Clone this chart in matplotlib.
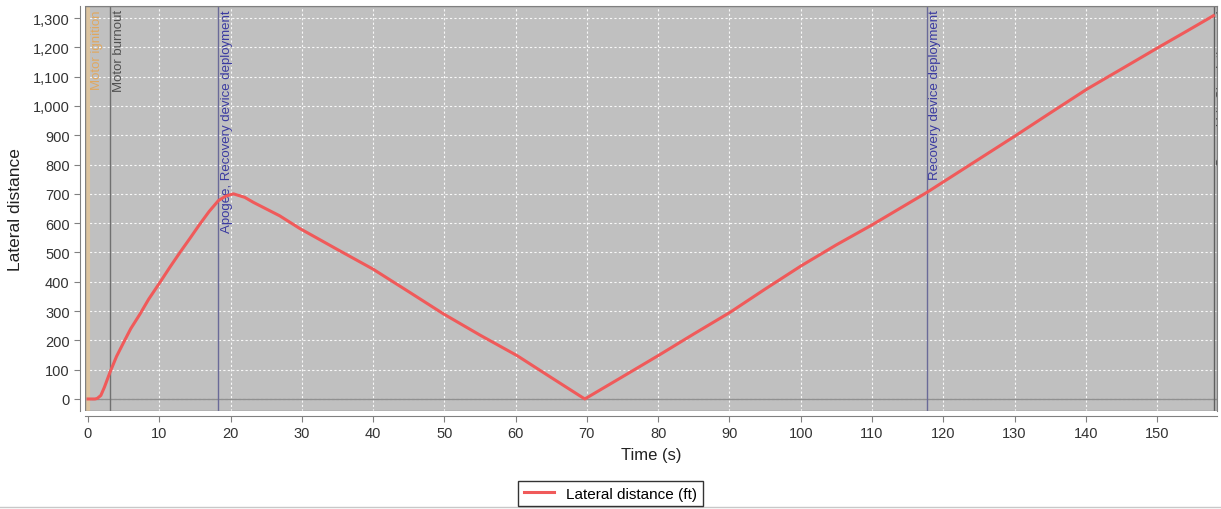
#!/usr/bin/env python3
"""
Lateral distance vs time, flight simulation style plot
"""

import matplotlib
matplotlib.use('Agg')
import matplotlib.pyplot as plt
from matplotlib.ticker import FuncFormatter, MultipleLocator
from matplotlib.lines import Line2D

plt.rcParams['font.family'] = ['Liberation Sans', 'DejaVu Sans']

# Flight data
time_s = [0, 1.0, 1.3, 1.8, 2.3, 3.1, 4.0, 5.0, 6.0, 7.3, 8.5, 10.1, 11.5, 12.9,
          14.3, 15.7, 17.0, 18.3, 19.3, 20.4, 22.0, 23.2, 26.9, 29.7, 35.0, 40.0,
          45.0, 49.9, 55.0, 60.2, 65.0, 69.7, 75.0, 80.0, 85.0, 90.1, 95.0, 100.1,
          105.0, 110.0, 117.7, 124.0, 130.1, 135.0, 140.2, 145.0, 150.2, 154.0, 157.9]
lateral_ft = [0, 0, 2, 12, 40, 92, 145, 193, 240, 290, 340, 398, 450, 500,
              548, 597, 640, 677, 692, 700, 688, 671, 625, 582, 510, 443,
              366, 290, 218, 148, 73, 0, 76, 148, 222, 296, 375, 455,
              526, 594, 705, 803, 898, 976, 1058, 1126, 1200, 1253, 1308]

# Flight events
event_times = [0.05, 3.1, 18.3, 117.7, 158.0]
event_labels = ['Motor ignition', 'Motor burnout', 'Apogee, Recovery device deployment',
                'Recovery device deployment', 'Ground hit, Simulation end']
event_line_colors = ['#dcc4a0', '#707070', '#6a6a98', '#6a6a98', '#606060']
event_text_colors = ['#e0a860', '#505050', '#3a3aa0', '#3a3aa0', '#404040']

x_ticks = list(range(0, 151, 10))


def main():
    fig = plt.figure(figsize=(12.21, 5.10), dpi=100)
    ax = fig.add_axes([85 / 1221, 1 - 412 / 510, 1132 / 1221, 405 / 510])

    ax.set_facecolor('#c0c0c0')
    ax.set_xlim(-0.42, 158.4)
    ax.set_ylim(-41, 1341)

    # grid
    ax.grid(True, color='white', linestyle=(0, (2, 2)), linewidth=0.8, alpha=0.9)
    ax.set_axisbelow(True)
    ax.axhline(0, color='#909090', linewidth=1.0, zorder=1)

    # event markers
    for t, lab, lc, tc in zip(event_times, event_labels, event_line_colors, event_text_colors):
        lw = 3.0 if t < 1 else 1.0
        ax.axvline(t, color=lc, linewidth=lw, zorder=2)
        ax.text(t + 0.35, 1330, lab, rotation=90, ha='left', va='top',
                fontsize=9.5, color=tc, clip_on=True, zorder=3)

    ax.plot(time_s, lateral_ft, color='#f05a5a', linewidth=2.2,
            label='Lateral distance (ft)', zorder=4)

    # axes styling
    ax.set_xticks(x_ticks)
    ax.yaxis.set_major_locator(MultipleLocator(100))
    ax.yaxis.set_major_formatter(FuncFormatter(lambda v, p: f'{int(v):,}'))
    for s in ['left', 'bottom']:
        ax.spines[s].set_position(('outward', 3.5))
        ax.spines[s].set_color('#808080')
    for s in ['top', 'right']:
        ax.spines[s].set_color('#808080')
    # plot border
    ax.add_patch(plt.Rectangle((0, 0), 1, 1, transform=ax.transAxes, fill=False,
                               edgecolor='#808080', linewidth=1.0, zorder=5))
    ax.tick_params(axis='both', colors='#808080', labelcolor='#333333',
                   labelsize=10.5, length=4, width=0.8)

    ax.set_xlabel('Time (s)', fontsize=12, color='#222222', labelpad=5)
    ax.set_ylabel('Lateral distance', fontsize=12.5, color='#222222', labelpad=7)

    leg = fig.legend(loc='lower center', bbox_to_anchor=(0.5, 3 / 510), fontsize=11,
                     frameon=True, fancybox=False, handlelength=2.0, borderpad=0.35,
                     borderaxespad=0)
    leg.get_frame().set_edgecolor('black')
    leg.get_frame().set_linewidth(1.0)

    fig.add_artist(Line2D([0, 1], [2 / 510, 2 / 510], color='#c8c8c8', linewidth=1.0,
                          transform=fig.transFigure))

    fig.savefig('out.png', dpi=100)


if __name__ == '__main__':
    main()
